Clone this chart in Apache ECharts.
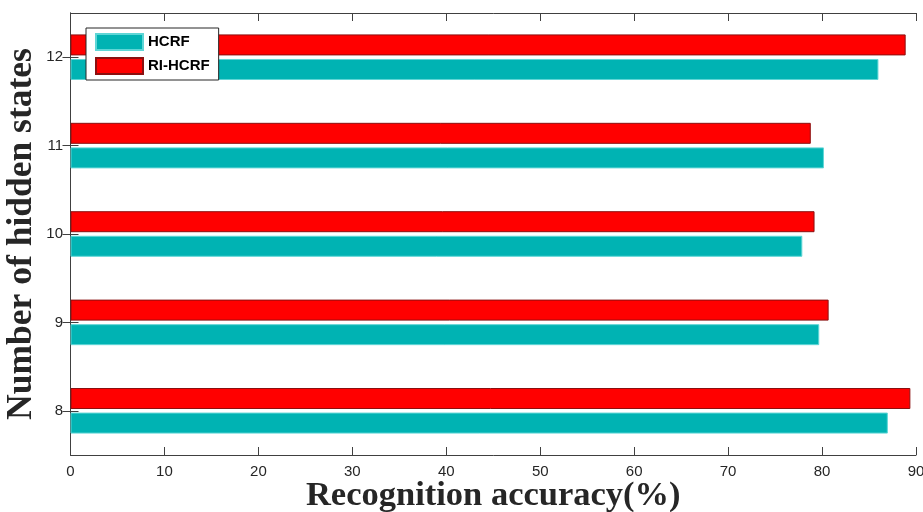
<!DOCTYPE html>
<html><head><meta charset="utf-8">
<script src="https://cdn.jsdelivr.net/npm/echarts@6/dist/echarts.min.js"></script>
<style>html,body{margin:0;padding:0;background:#fff}#c{width:923px;height:512px}</style>
</head><body><div id="c"></div>
<script>
const categories = ['8', '9', '10', '11', '12'];
const hcrf = [87.0, 79.7, 77.9, 80.2, 86.0];
const riHcrf = [89.4, 80.7, 79.2, 78.8, 88.9];
const xTicks = [0, 10, 20, 30, 40, 50, 60, 70, 80, 90];

const axisColor = '#404040';
const labelColor = '#262626';
const chart = echarts.init(document.getElementById('c'));
chart.setOption({
  animation: false,
  backgroundColor: '#fff',
  grid: { left: 70.5, right: 7, top: 13, bottom: 57, outerBoundsMode: 'none', containLabel: false },
  legend: {
    orient: 'vertical', left: 86, top: 28,
    padding: [5, 9, 5, 9], itemGap: 6, itemWidth: 47, itemHeight: 16, icon: 'rect',
    backgroundColor: '#fff', borderColor: '#262626', borderWidth: 1,
    textStyle: { fontFamily: 'Liberation Sans', fontWeight: 'bold', fontSize: 15, color: '#000' },
    data: ['HCRF', 'RI-HCRF']
  },
  xAxis: [{
    type: 'value', min: xTicks[0], max: xTicks[xTicks.length - 1], interval: 10,
    position: 'bottom',
    name: 'Recognition accuracy(%)', nameLocation: 'middle', nameGap: 24, nameMoveOverlap: false,
    nameTextStyle: { fontFamily: 'Liberation Serif', fontWeight: 'bold', fontSize: 34.5, color: '#262626' },
    axisLine: { show: true, lineStyle: { color: axisColor, width: 1 } },
    axisTick: { show: true, inside: true, length: 8, lineStyle: { color: axisColor } },
    axisLabel: { margin: 9, fontFamily: 'Liberation Sans', fontSize: 15, color: labelColor },
    splitLine: { show: false }
  }, {
    type: 'value', min: xTicks[0], max: xTicks[xTicks.length - 1], interval: 10,
    position: 'top',
    axisLine: { show: true, lineStyle: { color: axisColor, width: 1 } },
    axisTick: { show: true, inside: true, length: 8, lineStyle: { color: axisColor } },
    axisLabel: { show: false }, splitLine: { show: false }
  }],
  yAxis: [{
    type: 'category', data: categories, position: 'left',
    name: 'Number of hidden states', nameLocation: 'middle', nameGap: 31, nameRotate: 90, nameMoveOverlap: false,
    nameTextStyle: { fontFamily: 'Liberation Serif', fontWeight: 'bold', fontSize: 35.5, color: '#262626' },
    axisLine: { show: true, lineStyle: { color: axisColor, width: 1 } },
    axisTick: { show: true, inside: true, length: 8, alignWithLabel: true, lineStyle: { color: axisColor } },
    axisLabel: { margin: 7.5, fontFamily: 'Liberation Sans', fontSize: 15, color: labelColor },
    splitLine: { show: false }
  }, {
    type: 'category', data: categories, position: 'right',
    axisLine: { show: true, lineStyle: { color: axisColor, width: 1 } },
    axisTick: { show: true, inside: true, length: 8, alignWithLabel: true, lineStyle: { color: axisColor } },
    axisLabel: { show: false }, splitLine: { show: false }
  }],
  series: [{
    name: 'RI-HCRF', type: 'bar', data: riHcrf, xAxisIndex: 0, yAxisIndex: 0,
    barWidth: 21, barGap: '17%',
    itemStyle: { color: '#FF0000', borderColor: '#8B1010', borderWidth: 1 }
  }, {
    name: 'HCRF', type: 'bar', data: hcrf, xAxisIndex: 0, yAxisIndex: 0,
    barWidth: 21, barGap: '17%',
    itemStyle: { color: '#00B3B3', borderColor: '#5fd6d6', borderWidth: 1 }
  }]
});
</script></body></html>
